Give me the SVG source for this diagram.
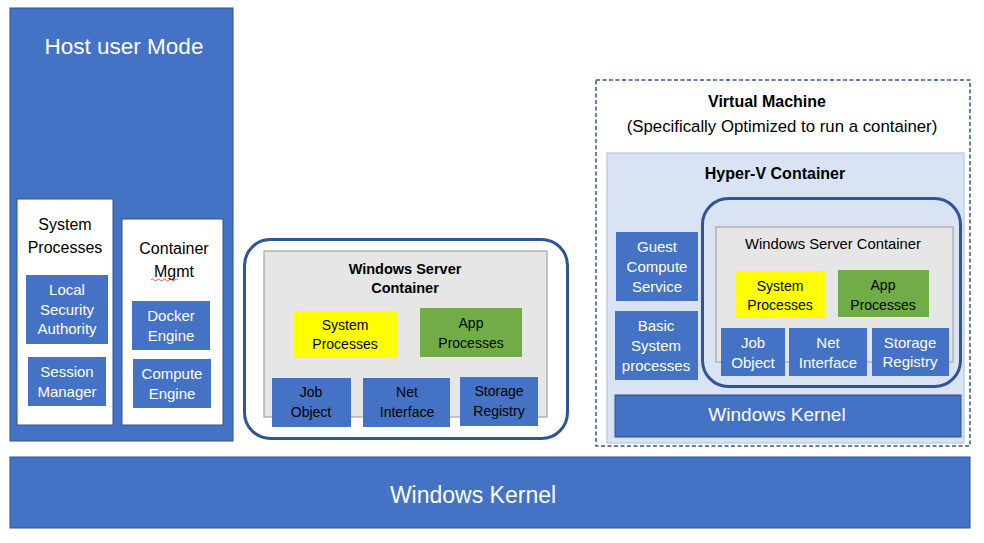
<svg xmlns="http://www.w3.org/2000/svg" width="984" height="543" viewBox="0 0 984 543">
<style>
text{font-family:"Liberation Sans",Arial,sans-serif;text-anchor:middle}
.blue{fill:#4472C4;stroke:#2F528F;stroke-width:1}
.bluen{fill:#4472C4;stroke:none}
.white{fill:#FFFFFF;stroke:#2F528F;stroke-width:1}
.gray{fill:#E7E6E6;stroke:#A6A6A6;stroke-width:1.2}
.yellow{fill:#FFFF00;stroke:none}
.green{fill:#70AD47;stroke:none}
.round{fill:none;stroke:#2F5597;stroke-width:3}
.roundw{fill:#FFFFFF;stroke:#2F5597;stroke-width:3}
.lt{fill:#FFFFFF}
.dk{fill:#000000}
.s15{font-size:15px}
.s14{font-size:14px}
.s16{font-size:16px}
</style>
<rect width="984" height="543" fill="#FFFFFF"/>

<g id="host-user-mode">
<rect class="blue" x="10" y="8" width="223" height="433"/>
<text class="lt" x="124" y="54" font-size="22.5">Host user Mode</text>
</g>

<g id="system-processes-host">
<rect class="white" x="17" y="199" width="96" height="226"/>
<text class="dk s16" x="65" y="230">System</text>
<text class="dk s16" x="65" y="253">Processes</text>
</g>
<g id="local-security-authority">
<rect class="bluen" x="26" y="275" width="82" height="69"/>
<text class="lt s15" x="67" y="295">Local</text>
<text class="lt s15" x="67" y="315">Security</text>
<text class="lt s15" x="67" y="334">Authority</text>
</g>
<g id="session-manager">
<rect class="bluen" x="28" y="357" width="78" height="49"/>
<text class="lt s15" x="67" y="377">Session</text>
<text class="lt s15" x="67" y="397">Manager</text>
</g>

<g id="container-mgmt">
<rect class="white" x="122" y="219" width="101" height="206"/>
<text class="dk s16" x="174" y="254">Container</text>
<text class="dk s16" x="174" y="277">Mgmt</text>
<path d="M151,280 q1.5,-2 3,0 t3,0 t3,0 t3,0 t3,0 t3,0 t3,0 t3,0 t3,0" fill="none" stroke="#E03030" stroke-width="0.8"/>
</g>
<g id="docker-engine">
<rect class="bluen" x="132" y="301" width="78" height="49"/>
<text class="lt s15" x="171" y="321">Docker</text>
<text class="lt s15" x="171" y="341">Engine</text>
</g>
<g id="compute-engine">
<rect class="bluen" x="133" y="359" width="78" height="49"/>
<text class="lt s15" x="172" y="379">Compute</text>
<text class="lt s15" x="172" y="399">Engine</text>
</g>

<g id="windows-server-container">
<rect class="roundw" x="244.5" y="239.5" width="323" height="199" rx="26"/>
<rect class="gray" x="264" y="251" width="283" height="166"/>
<text class="dk" x="405" y="274" font-size="14.5" font-weight="bold">Windows Server</text>
<text class="dk" x="405" y="293" font-size="14.5" font-weight="bold">Container</text>
</g>
<g id="wsc-system-processes">
<rect class="yellow" x="294" y="311" width="103" height="47"/>
<text class="dk s14" x="345" y="330">System</text>
<text class="dk s14" x="345" y="349">Processes</text>
</g>
<g id="wsc-app-processes">
<rect class="green" x="420" y="308" width="102" height="49"/>
<text class="dk s14" x="471" y="328">App</text>
<text class="dk s14" x="471" y="348">Processes</text>
</g>
<g id="wsc-job-object">
<rect class="bluen" x="272" y="378" width="79" height="49"/>
<text class="dk s14" x="311" y="397">Job</text>
<text class="dk s14" x="311" y="417">Object</text>
</g>
<g id="wsc-net-interface">
<rect class="bluen" x="363" y="378" width="87" height="49"/>
<text class="dk s14" x="407" y="397">Net</text>
<text class="dk s14" x="407" y="417">Interface</text>
</g>
<g id="wsc-storage-registry">
<rect class="bluen" x="460" y="377" width="78" height="49"/>
<text class="dk s14" x="499" y="396">Storage</text>
<text class="dk s14" x="499" y="416">Registry</text>
</g>

<g id="virtual-machine">
<rect x="596" y="80" width="374" height="366" fill="#FFFFFF" stroke="#2F5597" stroke-width="1.5" stroke-dasharray="4,2.5"/>
<text class="dk" x="767" y="107" font-size="16" font-weight="bold">Virtual Machine</text>
<text class="dk" x="782" y="132" font-size="16.8">(Specifically Optimized to run a container)</text>
</g>
<g id="hyper-v-container">
<rect x="607" y="153" width="357" height="290" fill="#DAE3F3" stroke="#B4C7E7" stroke-width="1.2"/>
<text class="dk" x="775" y="179" font-size="16" font-weight="bold">Hyper-V Container</text>
</g>
<g id="guest-compute-service">
<rect class="bluen" x="616" y="232" width="82" height="69"/>
<text class="lt s15" x="657" y="252">Guest</text>
<text class="lt s15" x="657" y="272">Compute</text>
<text class="lt s15" x="657" y="292">Service</text>
</g>
<g id="basic-system-processes">
<rect class="bluen" x="615" y="311" width="83" height="69"/>
<text class="lt s15" x="656" y="331">Basic</text>
<text class="lt s15" x="656" y="351">System</text>
<text class="lt s15" x="656" y="371">processes</text>
</g>
<g id="hv-windows-server-container">
<rect class="round" x="702.5" y="198.5" width="258" height="188" rx="26"/>
<rect class="gray" x="716" y="227" width="237" height="135"/>
<text class="dk" x="833" y="249" font-size="14.8">Windows Server Container</text>
</g>
<g id="hv-system-processes">
<rect class="yellow" x="735" y="271" width="91" height="47"/>
<text class="dk s14" x="780" y="291">System</text>
<text class="dk s14" x="780" y="310">Processes</text>
</g>
<g id="hv-app-processes">
<rect class="green" x="838" y="270" width="91" height="47"/>
<text class="dk s14" x="883" y="290">App</text>
<text class="dk s14" x="883" y="310">Processes</text>
</g>
<g id="hv-job-object">
<rect class="bluen" x="721" y="328" width="64" height="48"/>
<text class="lt s15" x="753" y="348">Job</text>
<text class="lt s15" x="753" y="368">Object</text>
</g>
<g id="hv-net-interface">
<rect class="bluen" x="789" y="328" width="78" height="48"/>
<text class="lt s15" x="828" y="348">Net</text>
<text class="lt s15" x="828" y="368">Interface</text>
</g>
<g id="hv-storage-registry">
<rect class="bluen" x="872" y="328" width="77" height="48"/>
<text class="lt s15" x="910" y="348">Storage</text>
<text class="lt s15" x="910" y="367">Registry</text>
</g>
<g id="hv-windows-kernel">
<rect class="blue" x="615" y="395" width="346" height="42"/>
<text class="lt" x="777" y="421" font-size="19">Windows Kernel</text>
</g>

<g id="windows-kernel">
<rect class="blue" x="10" y="457" width="960" height="71"/>
<text class="lt" x="473" y="503" font-size="23">Windows Kernel</text>
</g>

<g id="connectors"></g>
</svg>
